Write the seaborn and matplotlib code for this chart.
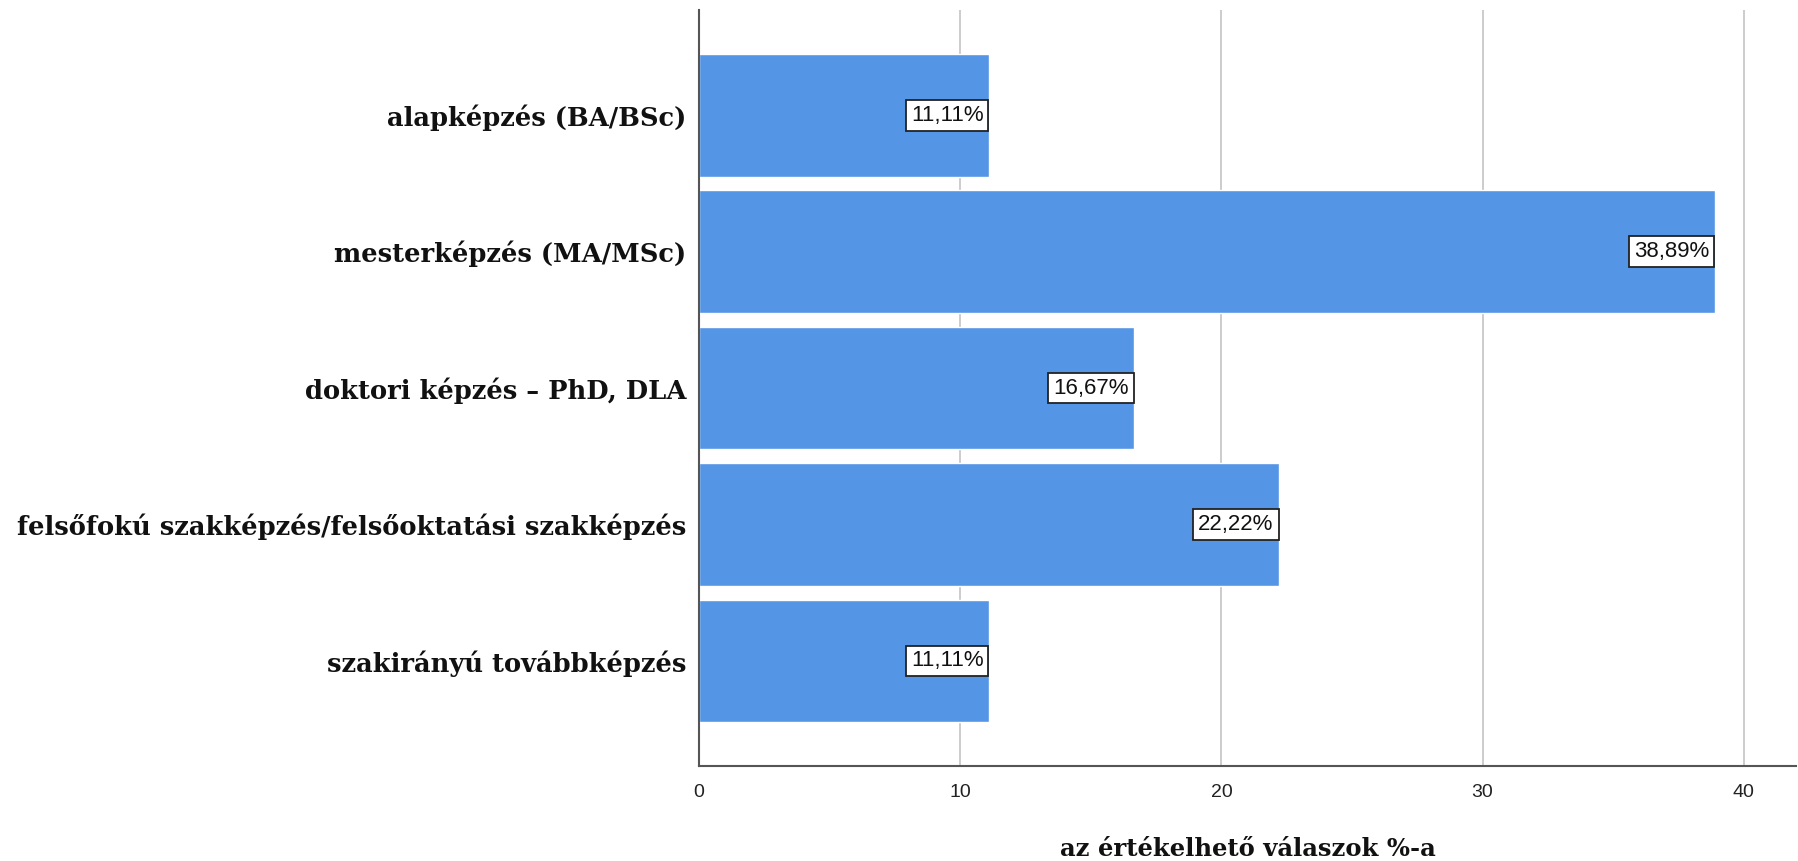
import matplotlib
matplotlib.use("Agg")
import matplotlib.pyplot as plt
import seaborn as sns
import pandas as pd

categories = [
    "alapképzés (BA/BSc)",
    "mesterképzés (MA/MSc)",
    "doktori képzés – PhD, DLA",
    "felsőfokú szakképzés/felsőoktatási szakképzés",
    "szakirányú továbbképzés",
]
values = [11.11, 38.89, 16.67, 22.22, 11.11]
labels = ["11,11%", "38,89%", "16,67%", "22,22%", "11,11%"]
xticks = [0, 10, 20, 30, 40]
xlabel = "az értékelhető válaszok %-a"

df = pd.DataFrame({"cat": categories, "val": values})

sns.set_style("white")
fig = plt.figure(figsize=(17.99, 8.61), dpi=100)
ax = fig.add_axes([0.3886, 0.1103, 0.6097, 0.878])

sns.barplot(data=df, x="val", y="cat", orient="h", color="#5595E5",
            saturation=1, width=0.9, ax=ax, zorder=2)

ax.set_xlim(0, 42.0)
ax.set_ylim(4.77, -0.77)
ax.set_xticks(xticks)
ax.set_xticklabels([str(t) for t in xticks], fontsize=14,
                   family="Liberation Sans", color="#222222")
ax.tick_params(axis="x", length=0, pad=13)
ax.tick_params(axis="y", length=0, pad=9)
for t in ax.get_yticklabels():
    t.set_family("DejaVu Serif")
    t.set_fontweight("bold")
    t.set_fontsize(18.5)
    t.set_color("#111111")

ax.grid(axis="x", color="#c8c8c8", linewidth=1.3, zorder=0)
ax.set_axisbelow(True)
for s in ["top", "right"]:
    ax.spines[s].set_visible(False)
for s in ["left", "bottom"]:
    ax.spines[s].set_color("#555555")
    ax.spines[s].set_linewidth(1.5)

ax.set_ylabel("")
ax.set_xlabel(xlabel, fontsize=17.5, family="DejaVu Serif",
              fontweight="bold", labelpad=26, color="#111111")

for i, (v, lab) in enumerate(zip(values, labels)):
    ax.text(v - 0.22, i, lab, ha="right", va="center", fontsize=16,
            family="Liberation Sans", color="#111111", zorder=5,
            bbox=dict(boxstyle="square,pad=0.22", facecolor="white",
                      edgecolor="#222222", linewidth=1.3))

fig.savefig("out.png", dpi=100)
